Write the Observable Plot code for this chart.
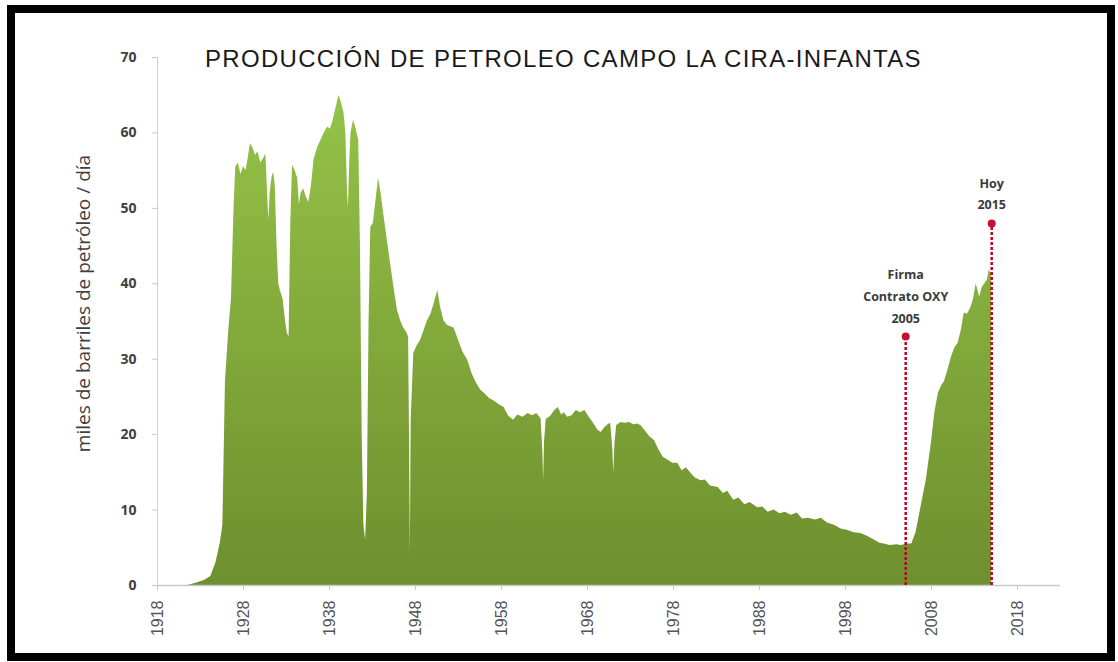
<!DOCTYPE html>
<html>
<head>
<meta charset="utf-8">
<script src="https://cdn.jsdelivr.net/npm/d3@7"></script>
<script src="https://cdn.jsdelivr.net/npm/@observablehq/plot@0.6"></script>
<style>
  html, body { margin: 0; padding: 0; background: #fff; }
  #wrap { position: relative; width: 1118px; height: 662px; overflow: hidden; }
  #frame { position: absolute; left: 7px; top: 5px; width: 1108px; height: 656px; box-sizing: border-box; border: 8px solid #000; pointer-events: none; }
  #title { position: absolute; left: 205px; top: 45px; font-family: "Liberation Sans", Arial, sans-serif; font-size: 24px; color: #1a1a1a; white-space: nowrap; letter-spacing: 1.3px; }
  #chart { position: absolute; left: 0; top: 0; }
</style>
</head>
<body>
<div id="wrap">
  <div id="chart"></div>
  <div id="title">PRODUCCIÓN DE PETROLEO CAMPO LA CIRA-INFANTAS</div>
  <div id="frame"></div>
</div>
<script>
// Production (thousand barrels/day)
const years = [
  1918, 1921.5, 1922.5, 1923.5, 1924.2, 1924.8, 1925.3, 1925.6, 1925.9, 1926.3, 1926.6, 1926.9,
  1927.1, 1927.4, 1927.7, 1928.0, 1928.3, 1928.6, 1928.8, 1929.1, 1929.4, 1929.7, 1930.0, 1930.3,
  1930.6, 1930.8, 1930.95, 1931.1, 1931.3, 1931.5, 1931.7, 1931.9, 1932.1, 1932.3, 1932.6, 1932.9,
  1933.1, 1933.3, 1933.5, 1933.7, 1934.0, 1934.3, 1934.5, 1934.7, 1935.0, 1935.3, 1935.6, 1935.9,
  1936.2, 1936.6, 1937.0, 1937.4, 1937.8, 1938.1, 1938.4, 1938.8, 1939.1, 1939.4, 1939.7, 1939.9,
  1940.1, 1940.2, 1940.35, 1940.5, 1940.8, 1941.1, 1941.4, 1941.6, 1941.8, 1942.0, 1942.2, 1942.4,
  1942.6, 1942.8, 1943.1, 1943.4, 1943.7, 1944.0, 1944.3, 1944.7, 1945.1, 1945.5, 1945.9, 1946.3,
  1946.6, 1947.0, 1947.2, 1947.3, 1947.4, 1947.5, 1947.8, 1948.2, 1948.6, 1949.0, 1949.4, 1949.8,
  1950.2, 1950.6, 1950.9, 1951.3, 1951.7, 1952.1, 1952.5, 1953.0, 1953.5, 1954.1, 1954.6, 1955.1,
  1955.6, 1956.1, 1956.6, 1957.1, 1957.7, 1958.3, 1958.8, 1959.4, 1959.9, 1960.5, 1961.1, 1961.6,
  1962.1, 1962.6, 1962.8, 1962.9, 1963.0, 1963.2, 1963.7, 1964.2, 1964.6, 1965.0, 1965.3, 1965.7,
  1966.2, 1966.7, 1967.2, 1967.7, 1968.2, 1968.7, 1969.2, 1969.6, 1970.0, 1970.4, 1970.7, 1970.95,
  1971.05, 1971.2, 1971.4, 1971.9, 1972.4, 1972.9, 1973.4, 1973.8, 1974.2, 1974.7, 1975.2, 1975.8,
  1976.3, 1976.8, 1977.4, 1977.9, 1978.5, 1979.0, 1979.5, 1980.0, 1980.5, 1981.2, 1981.7, 1982.3,
  1983.2, 1983.8, 1984.3, 1985.0, 1985.6, 1986.3, 1986.9, 1987.8, 1988.4, 1989.0, 1989.7, 1990.4,
  1991.0, 1991.7, 1992.4, 1993.0, 1993.7, 1994.5, 1995.2, 1995.9, 1996.7, 1997.5, 1998.3, 1999.0,
  1999.8, 2000.6, 2001.4, 2002.0, 2002.5, 2003.2, 2004.0, 2004.5, 2005.2, 2005.7, 2006.2, 2006.8,
  2007.4, 2008.0, 2008.4, 2008.8, 2009.2, 2009.5, 2009.9, 2010.3, 2010.7, 2011.1, 2011.5, 2011.8,
  2012.2, 2012.6, 2012.9, 2013.2, 2013.6, 2013.9, 2014.2, 2014.5, 2014.7, 2015.0
];
const values = [
  0, 0, 0.3, 0.7, 1.2, 3, 5.6, 8, 27, 34, 38, 50,
  55.5, 56, 54.5, 55.5, 55, 57, 58.6, 58, 57, 57.5, 56, 56.5,
  57.2, 52, 48.4, 52, 54, 54.8, 53, 45, 40, 39, 38, 35,
  33.4, 33, 48, 55.7, 55, 54, 50.5, 52, 52.6, 51.5, 50.8, 53,
  56.4, 58, 59, 60, 60.8, 60.5, 61.5, 63.5, 65, 64, 62.5, 60,
  52, 50, 56, 60, 61.7, 60.5, 59, 45, 20, 8, 6, 12,
  35, 47.5, 48, 51, 54, 52, 49.3, 46, 42.7, 39.5, 36.5, 35,
  34.2, 33.5, 32.9, 20, 4.2, 22, 30.8, 31.8, 32.5, 33.8, 35.1, 36,
  37.5, 39.1, 37, 35.1, 34.5, 34.3, 34.1, 32.5, 31, 29.8, 28, 26.8,
  25.9, 25.4, 24.8, 24.5, 24, 23.6, 22.5, 21.9, 22.6, 22.3, 22.8, 22.5,
  22.8, 22.1, 18, 13.9, 19, 22, 22.4, 23.2, 23.6, 22.6, 22.9, 22.3,
  22.5, 23.2, 22.9, 23.2, 22.3, 21.5, 20.6, 20.3, 20.9, 21.3, 21.5, 18,
  14.9, 19, 21.2, 21.6, 21.5, 21.6, 21.3, 21.4, 21.2, 20.5, 19.8, 19.2,
  18, 17, 16.6, 16.2, 16.2, 15.2, 15.6, 14.9, 14.3, 13.9, 14, 13.2,
  13, 12.2, 12.5, 11.3, 11.6, 10.7, 11, 10.3, 10.4, 9.7, 10, 9.5,
  9.7, 9.3, 9.6, 8.8, 8.9, 8.7, 8.9, 8.3, 8.0, 7.5, 7.3, 7.0,
  6.9, 6.5, 6.0, 5.6, 5.5, 5.3, 5.4, 5.3, 5.5, 5.5, 7, 10.5,
  14, 19, 23, 25.5, 26.5, 27, 28.5, 30.2, 31.5, 32.1, 34, 36.1,
  36, 36.9, 38, 40, 38.2, 39.5, 40, 40.5, 41.8, 41.3
];
const xTicks = [1918, 1928, 1938, 1948, 1958, 1968, 1978, 1988, 1998, 2008, 2018];
const yTicks = [0, 10, 20, 30, 40, 50, 60, 70];
const eventYears = [2005, 2015];
const eventValues = [33, 48];
const eventLabels = ["Firma\nContrato OXY\n2005", "Hoy\n2015"];
const yLabel = "miles de barriles de petróleo / día";

const data = years.map((year, i) => ({year, value: values[i]}));
const events = eventYears.map((year, i) => ({year, value: eventValues[i], label: eventLabels[i]}));

const chart = Plot.plot({
  width: 1118,
  height: 662,
  marginLeft: 157,
  marginRight: 58,
  marginTop: 57,
  marginBottom: 77,
  style: {fontFamily: "'Liberation Sans', Arial, sans-serif", background: "transparent", overflow: "visible"},
  x: {domain: [1918, 2023]},
  y: {domain: [0, 70]},
  marks: [
    Plot.areaY(data, {x: "year", y: "value", fill: "url(#oilGrad)", curve: "linear"}),
    Plot.ruleY([0], {stroke: "#c9c9c9", strokeWidth: 1.5}),
    Plot.ruleX([1918], {stroke: "#d0d0d0", strokeWidth: 1}),
    Plot.axisY({ticks: yTicks, tickSize: 5, tickPadding: 16, fontSize: 14, fontWeight: "bold",
      fill: "#404040", stroke: "#c9c9c9", label: null, fontFamily: "'Open Sans', sans-serif"}),
    Plot.axisX({ticks: xTicks, tickFormat: "d", tickRotate: -90, tickSize: 5, tickPadding: 10,
      fontSize: 16, fill: "#555555", stroke: "#c9c9c9", label: null}),
    Plot.ruleX(events, {x: "year", y1: 0, y2: "value", stroke: "#c5001f", strokeWidth: 2.5, strokeDasharray: "3,2"}),
    Plot.dot(events, {x: "year", y: "value", r: 4, fill: "#c8102e", stroke: "none"}),
    Plot.text(events, {x: "year", y: "value", text: "label", lineAnchor: "bottom", dy: -14,
      fontWeight: "bold", fontSize: 12.5, lineHeight: 1.75, fill: "#3a3a3a", fontFamily: "'Open Sans', sans-serif"}),
    Plot.text([yLabel], {frameAnchor: "left", text: d => d, rotate: -90, textAnchor: "middle", dx: -74, dy: -18,
      fontSize: 19, fill: "#404040", fontFamily: "'Open Sans', sans-serif"})
  ]
});

const yScale = chart.scale("y");
const defs = d3.select(chart).insert("defs", ":first-child");
const grad = defs.append("linearGradient")
  .attr("id", "oilGrad")
  .attr("gradientUnits", "userSpaceOnUse")
  .attr("x1", 0).attr("x2", 0)
  .attr("y1", yScale.apply(70)).attr("y2", yScale.apply(0));
grad.append("stop").attr("offset", "0%").attr("stop-color", "#97c64b");
grad.append("stop").attr("offset", "50%").attr("stop-color", "#83ab3c");
grad.append("stop").attr("offset", "100%").attr("stop-color", "#6e8f2e");

document.getElementById("chart").appendChild(chart);
</script>
</body>
</html>
